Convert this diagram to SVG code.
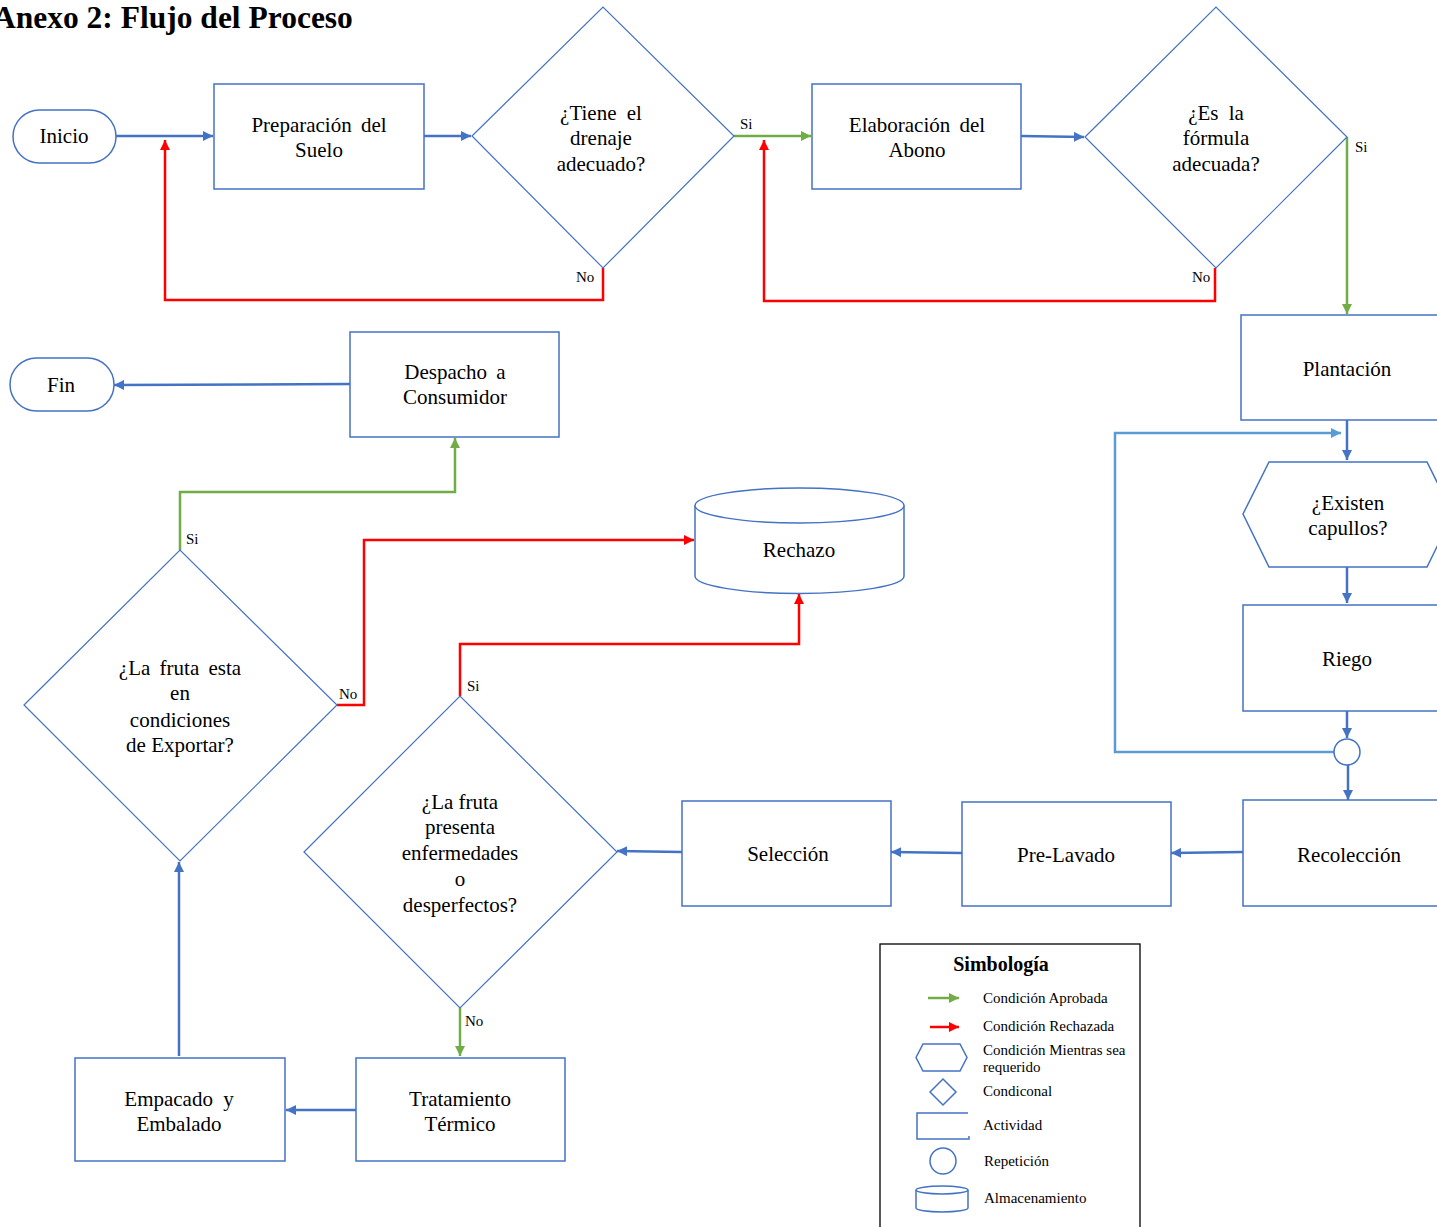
<svg xmlns="http://www.w3.org/2000/svg" width="1437" height="1227" viewBox="0 0 1437 1227">
  <style>
    .shape { fill: #FFFFFF; stroke: #4472C4; stroke-width: 1.5; }
    .dia { fill: #FFFFFF; stroke: #4472C4; stroke-width: 1.2; }
    .lbl { font-family: "Liberation Serif", "Times New Roman", serif; font-size: 21px; fill: #000; text-anchor: middle; }
    .tag { font-family: "Liberation Serif", "Times New Roman", serif; font-size: 15px; fill: #000; }
    .leg { font-family: "Liberation Serif", "Times New Roman", serif; font-size: 15px; fill: #000; }
    .blue { fill: none; stroke: #4472C4; stroke-width: 2.5; }
    .loop { fill: none; stroke: #5B9BD5; stroke-width: 2.5; }
    .green { fill: none; stroke: #70AD47; stroke-width: 2.5; }
    .red { fill: none; stroke: #FF0000; stroke-width: 2.5; }
  </style>
  <defs>
    <marker id="ab" viewBox="0 0 10 10" refX="10" refY="5" markerWidth="11" markerHeight="10" markerUnits="userSpaceOnUse" orient="auto"><path d="M0,0 L10,5 L0,10 z" fill="#4472C4"/></marker>
    <marker id="al" viewBox="0 0 10 10" refX="10" refY="5" markerWidth="11" markerHeight="10" markerUnits="userSpaceOnUse" orient="auto"><path d="M0,0 L10,5 L0,10 z" fill="#5B9BD5"/></marker>
    <marker id="ag" viewBox="0 0 10 10" refX="10" refY="5" markerWidth="11" markerHeight="10" markerUnits="userSpaceOnUse" orient="auto"><path d="M0,0 L10,5 L0,10 z" fill="#70AD47"/></marker>
    <marker id="ar" viewBox="0 0 10 10" refX="10" refY="5" markerWidth="11" markerHeight="10" markerUnits="userSpaceOnUse" orient="auto"><path d="M0,0 L10,5 L0,10 z" fill="#FF0000"/></marker>
  </defs>

  <rect x="0" y="0" width="1437" height="1227" fill="#FFFFFF"/>

  <text x="-7" y="28" font-family="Liberation Serif, Times New Roman, serif" font-size="31.5" font-weight="bold" fill="#000">Anexo 2: Flujo del Proceso</text>

  <!-- connectors -->
  <g id="connectors">
    <path class="blue" d="M116,136 H213" marker-end="url(#ab)"/>
    <path class="blue" d="M424,136 H471" marker-end="url(#ab)"/>
    <path class="green" d="M734,136 H811" marker-end="url(#ag)"/>
    <path class="red" d="M603,268 V300 H165 V140" marker-end="url(#ar)"/>
    <path class="blue" d="M1021,136 L1084,137" marker-end="url(#ab)"/>
    <path class="red" d="M1215,268 V301 H764 V140" marker-end="url(#ar)"/>
    <path class="green" d="M1347,137 V314" marker-end="url(#ag)"/>
    <path class="blue" d="M1347,420 V460" marker-end="url(#ab)"/>
    <path class="blue" d="M1347,567 V603" marker-end="url(#ab)"/>
    <path class="blue" d="M1347,711 V738" marker-end="url(#ab)"/>
    <path class="loop" d="M1334,752 H1115 V433 H1341" marker-end="url(#al)"/>
    <path class="blue" d="M1348,765 V800" marker-end="url(#ab)"/>
    <path class="blue" d="M1243,852 L1171,853" marker-end="url(#ab)"/>
    <path class="blue" d="M962,853 L891,852" marker-end="url(#ab)"/>
    <path class="blue" d="M682,852 L617,851" marker-end="url(#ab)"/>
    <path class="red" d="M460,696 V644 H799 V594" marker-end="url(#ar)"/>
    <path class="green" d="M460,1008 V1056" marker-end="url(#ag)"/>
    <path class="blue" d="M356,1110 H286" marker-end="url(#ab)"/>
    <path class="blue" d="M179,1056 V862" marker-end="url(#ab)"/>
    <path class="green" d="M180,550 V492 H455 V438" marker-end="url(#ag)"/>
    <path class="red" d="M337,705 H364 V540 H694" marker-end="url(#ar)"/>
    <path class="blue" d="M350,384 L114,385" marker-end="url(#ab)"/>

    <text class="tag" x="740" y="129">Si</text>
    <text class="tag" x="576" y="282">No</text>
    <text class="tag" x="1355" y="152">Si</text>
    <text class="tag" x="1192" y="282">No</text>
    <text class="tag" x="186" y="544">Si</text>
    <text class="tag" x="339" y="699">No</text>
    <text class="tag" x="467" y="691">Si</text>
    <text class="tag" x="465" y="1026">No</text>
  </g>

  <!-- nodes -->
  <g id="inicio">
    <rect class="shape" x="13" y="110" width="103" height="53" rx="26.5"/>
    <text class="lbl" x="64" y="143">Inicio</text>
  </g>
  <g id="preparacion">
    <rect class="shape" x="214" y="84" width="210" height="105"/>
    <text class="lbl" x="319" y="132" word-spacing="4">Preparación del</text>
    <text class="lbl" x="319" y="157">Suelo</text>
  </g>
  <g id="drenaje">
    <polygon class="dia" points="472,136 603,7 734,136 603,268"/>
    <text class="lbl" x="601" y="120" word-spacing="5">¿Tiene el</text>
    <text class="lbl" x="601" y="145">drenaje</text>
    <text class="lbl" x="601" y="171">adecuado?</text>
  </g>
  <g id="abono">
    <rect class="shape" x="812" y="84" width="209" height="105"/>
    <text class="lbl" x="917" y="132" word-spacing="4">Elaboración del</text>
    <text class="lbl" x="917" y="157">Abono</text>
  </g>
  <g id="formula">
    <polygon class="dia" points="1085,137 1216,7 1347,137 1216,268"/>
    <text class="lbl" x="1216" y="120" word-spacing="5">¿Es la</text>
    <text class="lbl" x="1216" y="145">fórmula</text>
    <text class="lbl" x="1216" y="171">adecuada?</text>
  </g>
  <g id="plantacion">
    <rect class="shape" x="1241" y="315" width="215" height="105"/>
    <text class="lbl" x="1347" y="376">Plantación</text>
  </g>
  <g id="capullos">
    <polygon class="shape" points="1243,514 1269,462 1427,462 1453,514 1427,567 1269,567"/>
    <text class="lbl" x="1348" y="510">¿Existen</text>
    <text class="lbl" x="1348" y="535">capullos?</text>
  </g>
  <g id="riego">
    <rect class="shape" x="1243" y="605" width="215" height="106"/>
    <text class="lbl" x="1347" y="666">Riego</text>
  </g>
  <g id="repeticion">
    <circle class="shape" cx="1347" cy="752" r="13"/>
  </g>
  <g id="recoleccion">
    <rect class="shape" x="1243" y="800" width="215" height="106"/>
    <text class="lbl" x="1349" y="862">Recolección</text>
  </g>
  <g id="prelavado">
    <rect class="shape" x="962" y="802" width="209" height="104"/>
    <text class="lbl" x="1066" y="862">Pre-Lavado</text>
  </g>
  <g id="seleccion">
    <rect class="shape" x="682" y="801" width="209" height="105"/>
    <text class="lbl" x="788" y="861">Selección</text>
  </g>
  <g id="enfermedades">
    <polygon class="dia" points="304,852 460,696 617,852 460,1008"/>
    <text class="lbl" x="460" y="809">¿La fruta</text>
    <text class="lbl" x="460" y="834">presenta</text>
    <text class="lbl" x="460" y="860">enfermedades</text>
    <text class="lbl" x="460" y="886">o</text>
    <text class="lbl" x="460" y="912">desperfectos?</text>
  </g>
  <g id="tratamiento">
    <rect class="shape" x="356" y="1058" width="209" height="103"/>
    <text class="lbl" x="460" y="1106">Tratamiento</text>
    <text class="lbl" x="460" y="1131">Térmico</text>
  </g>
  <g id="empacado">
    <rect class="shape" x="75" y="1058" width="210" height="103"/>
    <text class="lbl" x="179" y="1106" word-spacing="5">Empacado y</text>
    <text class="lbl" x="179" y="1131">Embalado</text>
  </g>
  <g id="exportar">
    <polygon class="dia" points="24,705 180,550 337,705 180,861"/>
    <text class="lbl" x="180" y="675" word-spacing="4">¿La fruta esta</text>
    <text class="lbl" x="180" y="700">en</text>
    <text class="lbl" x="180" y="727">condiciones</text>
    <text class="lbl" x="180" y="752">de Exportar?</text>
  </g>
  <g id="rechazo">
    <path class="shape" d="M695,505.5 V576 A104.5,17.5 0 0 0 904,576 V505.5"/>
    <ellipse class="shape" cx="799.5" cy="505.5" rx="104.5" ry="17.5"/>
    <text class="lbl" x="799" y="557">Rechazo</text>
  </g>
  <g id="despacho">
    <rect class="shape" x="350" y="332" width="209" height="105"/>
    <text class="lbl" x="455" y="379" word-spacing="4">Despacho a</text>
    <text class="lbl" x="455" y="404">Consumidor</text>
  </g>
  <g id="fin">
    <rect class="shape" x="10" y="358" width="104" height="53" rx="26.5"/>
    <text class="lbl" x="61" y="392">Fin</text>
  </g>

  <!-- legend -->
  <g id="simbologia">
    <rect x="880" y="944" width="260" height="300" fill="#FFFFFF" stroke="#000" stroke-width="1.3"/>
    <text x="1001" y="971" font-family="Liberation Serif, Times New Roman, serif" font-size="20" font-weight="bold" text-anchor="middle" fill="#000">Simbología</text>
    <path class="green" d="M928,998 H959" marker-end="url(#ag)"/>
    <text class="leg" x="983" y="1003">Condición Aprobada</text>
    <path class="red" d="M930,1027 H959" marker-end="url(#ar)"/>
    <text class="leg" x="983" y="1031">Condición Rechazada</text>
    <polygon class="shape" points="916,1057.5 923,1044 960,1044 967,1057.5 960,1071 923,1071"/>
    <text class="leg" x="983" y="1055">Condición Mientras sea</text>
    <text class="leg" x="983" y="1072">requerido</text>
    <polygon class="shape" points="930,1092 943,1079 956,1092 943,1105"/>
    <text class="leg" x="983" y="1096">Condiconal</text>
    <path class="shape" fill="none" d="M968,1113 H917 V1139 H969 V1136"/>
    <text class="leg" x="983" y="1130">Actividad</text>
    <circle class="shape" cx="943" cy="1161" r="13"/>
    <text class="leg" x="984" y="1166">Repetición</text>
    <path class="shape" d="M916,1190 V1208 A26,4 0 0 0 968,1208 V1190"/>
    <ellipse class="shape" cx="942" cy="1190" rx="26" ry="4"/>
    <text class="leg" x="984" y="1203">Almacenamiento</text>
  </g>
</svg>
